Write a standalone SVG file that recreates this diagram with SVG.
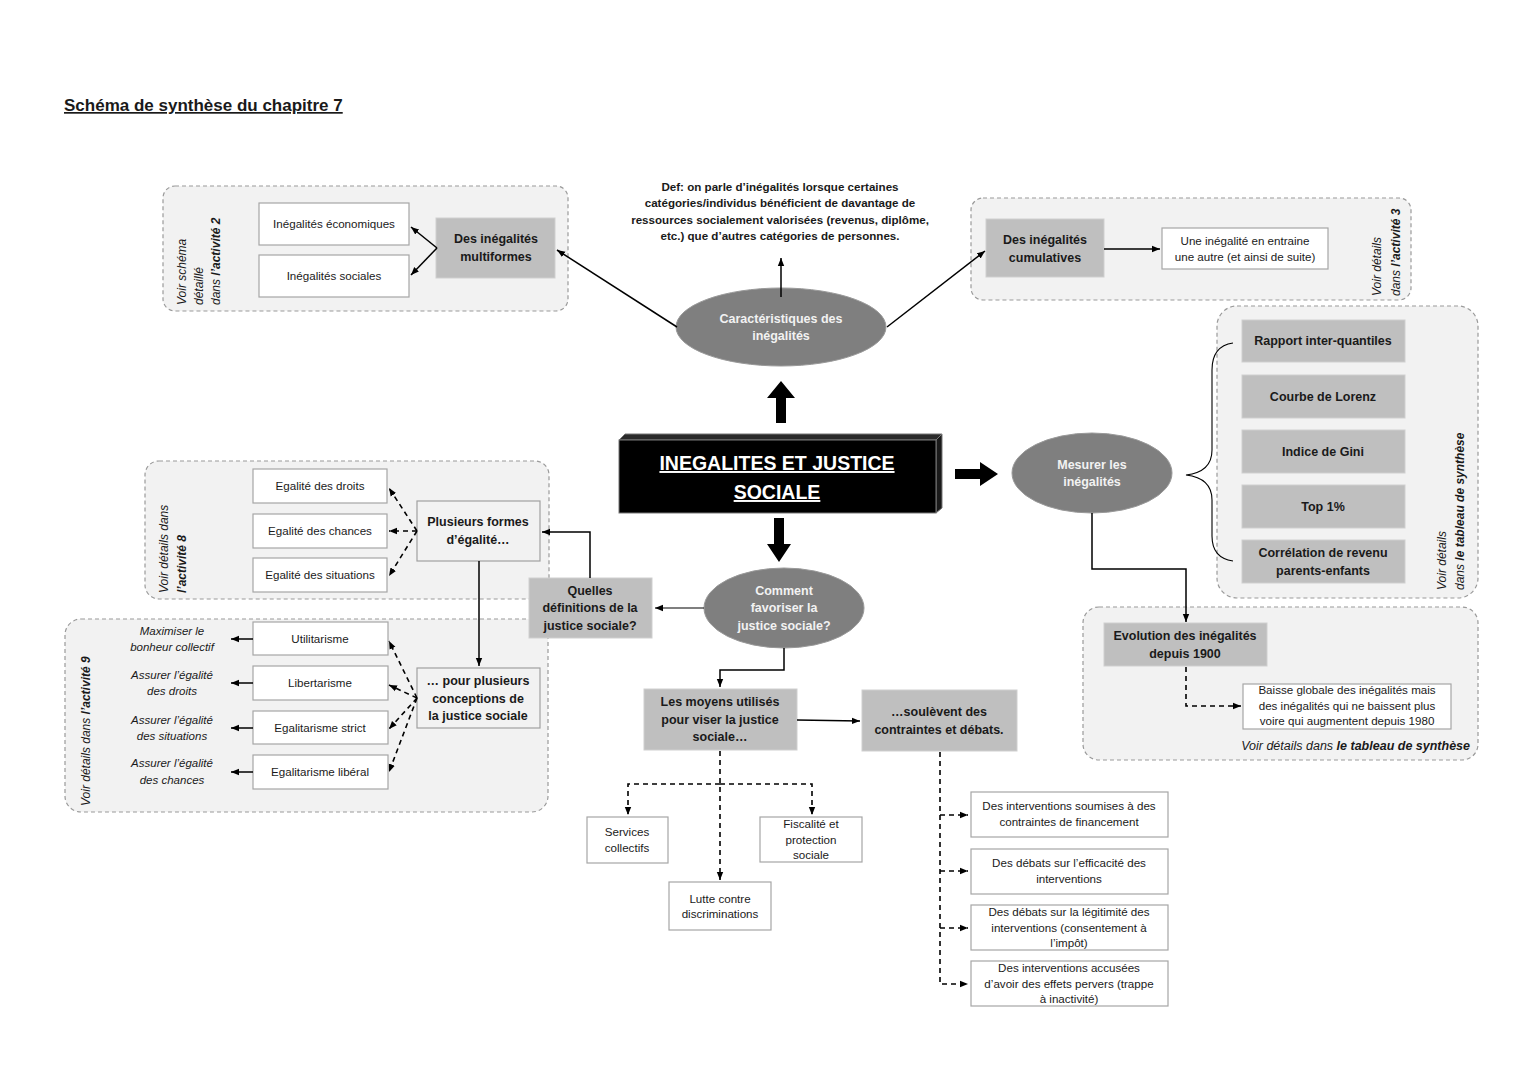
<svg xmlns="http://www.w3.org/2000/svg" width="1527" height="1080" viewBox="0 0 1527 1080">
<defs>
<marker id="a" viewBox="0 0 10 10" refX="10" refY="5" markerWidth="8" markerHeight="8" markerUnits="userSpaceOnUse" orient="auto"><path d="M0,1 L10,5 L0,9 z" fill="#000"/></marker>
<style>
text{font-family:"Liberation Sans",Arial,sans-serif;fill:#1a1a1a}
.cont{fill:#f2f2f2;stroke:#9a9a9a;stroke-width:1.2;stroke-dasharray:4,3}
.wb{fill:#fff;stroke:#a6a6a6;stroke-width:1.2}
.lb{fill:#f2f2f2;stroke:#a0a0a0;stroke-width:1.2}
.gb{fill:#bfbfbf;stroke:#cfcfcf;stroke-width:1}
.el{fill:#7f7f7f;stroke:#999;stroke-width:1}
.t11{font-size:11.6px;text-anchor:middle}
.tb{font-size:12.5px;font-weight:bold;text-anchor:middle}
.td{font-size:11.6px;font-weight:bold;text-anchor:middle}
.tw{font-size:12.5px;font-weight:bold;text-anchor:middle;fill:#f2f2f2}
.it{font-size:11.5px;font-style:italic;text-anchor:middle}
.rot{font-size:12px;font-style:italic}
.ln{fill:none;stroke:#000;stroke-width:1.5}
.th{fill:none;stroke:#000;stroke-width:1.1}
.ds{fill:none;stroke:#000;stroke-width:1.6;stroke-dasharray:5,4}
</style>
</defs>

<text x="64" y="111" style="font-size:17px;font-weight:bold;text-decoration:underline">Schéma de synthèse du chapitre 7</text>

<!-- containers -->
<g id="containers">
<rect class="cont" x="163" y="186" width="405" height="125" rx="12"/>
<rect class="cont" x="971" y="198" width="440" height="102" rx="12"/>
<rect class="cont" x="1217" y="306" width="261" height="292" rx="20"/>
<rect class="cont" x="1083" y="607" width="395" height="153" rx="16"/>
<rect class="cont" x="145" y="461" width="404" height="138" rx="14"/>
<rect class="cont" x="65" y="619" width="483" height="193" rx="16"/>
</g>

<g id="notes">
<text class="rot" transform="rotate(-90 186 305)" x="186" y="305">Voir schéma</text>
<text class="rot" transform="rotate(-90 203 305)" x="203" y="305">détaillé</text>
<text class="rot" transform="rotate(-90 220 305)" x="220" y="305">dans <tspan font-weight="bold">l’activité 2</tspan></text>
<text class="rot" transform="rotate(-90 1381 296)" x="1381" y="296">Voir détails</text>
<text class="rot" transform="rotate(-90 1400 296)" x="1400" y="296">dans <tspan font-weight="bold">l’activité 3</tspan></text>
<text class="rot" transform="rotate(-90 1446 590)" x="1446" y="590">Voir détails</text>
<text class="rot" transform="rotate(-90 1464 590)" x="1464" y="590">dans <tspan font-weight="bold">le tableau de synthèse</tspan></text>
<text class="rot" transform="rotate(-90 168 593)" x="168" y="593">Voir détails dans</text>
<text class="rot" transform="rotate(-90 186 593)" x="186" y="593"><tspan font-weight="bold">l’activité 8</tspan></text>
<text class="rot" transform="rotate(-90 90 806)" x="90" y="806">Voir détails dans <tspan font-weight="bold">l’activité 9</tspan></text>
<text x="1470" y="750" style="font-size:12.5px;font-style:italic;text-anchor:end">Voir détails dans <tspan font-weight="bold">le tableau de synthèse</tspan></text>
</g>

<!-- central -->
<g id="central">
<polygon points="619,440 625,434 942,434 936,440" fill="#2a2a2a" stroke="#777" stroke-width="1"/>
<polygon points="936,440 942,434 942,508 936,513" fill="#1a1a1a" stroke="#777" stroke-width="1"/>
<rect x="619" y="440" width="317" height="73" fill="#000" stroke="#777" stroke-width="1"/>
<text x="777" y="470" style="font-size:19.5px;font-weight:bold;text-anchor:middle;fill:#fff;text-decoration:underline">INEGALITES ET JUSTICE</text>
<text x="777" y="499" style="font-size:19.5px;font-weight:bold;text-anchor:middle;fill:#fff;text-decoration:underline">SOCIALE</text>
</g>

<g id="big-arrows" fill="#000">
<polygon points="776,423 776,398 767,398 781,381 795,398 786,398 786,423"/>
<polygon points="774,518 774,544 767,544 779,562 791,544 784,544 784,518"/>
<polygon points="955,469 980,469 980,462 998,474 980,486 980,479 955,479"/>
</g>

<!-- top -->
<g id="def">
<text class="td" x="780" y="191">Def: on parle d’inégalités lorsque certaines</text>
<text class="td" x="780" y="207">catégories/individus bénéficient de davantage de</text>
<text class="td" x="780" y="224">ressources socialement valorisées (revenus, diplôme,</text>
<text class="td" x="780" y="240">etc.) que d’autres catégories de personnes.</text>
</g>
<g id="caracteristiques">
<ellipse class="el" cx="781" cy="327" rx="105" ry="39"/>
<text class="tw" x="781" y="323">Caractéristiques  des</text>
<text class="tw" x="781" y="340">inégalités</text>
</g>
<g id="ineg-eco"><rect class="wb" x="259" y="203" width="150" height="42"/><text class="t11" x="334" y="228">Inégalités économiques</text></g>
<g id="ineg-soc"><rect class="wb" x="259" y="255" width="150" height="42"/><text class="t11" x="334" y="280">Inégalités sociales</text></g>
<g id="multiformes"><rect class="gb" x="436" y="218" width="119" height="60"/><text class="tb" x="496" y="243">Des inégalités</text><text class="tb" x="496" y="261">multiformes</text></g>
<g id="cumulatives"><rect class="gb" x="986" y="219" width="118" height="58"/><text class="tb" x="1045" y="244">Des inégalités</text><text class="tb" x="1045" y="262">cumulatives</text></g>
<g id="entraine"><rect class="wb" x="1162" y="228" width="166" height="41"/><text class="t11" x="1245" y="245">Une inégalité en entraine</text><text class="t11" x="1245" y="261">une autre (et ainsi de suite)</text></g>

<!-- right -->
<g id="mesurer"><ellipse class="el" cx="1092" cy="473" rx="80" ry="40"/><text class="tw" x="1092" y="469">Mesurer les</text><text class="tw" x="1092" y="486">inégalités</text></g>
<g id="rapport"><rect class="gb" x="1242" y="320" width="163" height="42"/><text class="tb" x="1323" y="345">Rapport inter-quantiles</text></g>
<g id="lorenz"><rect class="gb" x="1242" y="375" width="163" height="43"/><text class="tb" x="1323" y="401">Courbe de Lorenz</text></g>
<g id="gini"><rect class="gb" x="1242" y="430" width="163" height="43"/><text class="tb" x="1323" y="456">Indice de Gini</text></g>
<g id="top1"><rect class="gb" x="1242" y="485" width="163" height="43"/><text class="tb" x="1323" y="511">Top 1%</text></g>
<g id="correlation"><rect class="gb" x="1242" y="540" width="163" height="43"/><text class="tb" x="1323" y="557">Corrélation de revenu</text><text class="tb" x="1323" y="575">parents-enfants</text></g>
<g id="evolution"><rect class="gb" x="1104" y="623" width="163" height="43"/><text class="tb" x="1185" y="640">Evolution des inégalités</text><text class="tb" x="1185" y="658">depuis 1900</text></g>
<g id="baisse"><rect class="wb" x="1243" y="684" width="208" height="45"/><text class="t11" x="1347" y="694">Baisse globale des inégalités mais</text><text class="t11" x="1347" y="710">des inégalités qui ne baissent plus</text><text class="t11" x="1347" y="725">voire qui augmentent depuis 1980</text></g>

<!-- left -->
<g id="eg-droits"><rect class="wb" x="253" y="469" width="134" height="34"/><text class="t11" x="320" y="490">Egalité des droits</text></g>
<g id="eg-chances"><rect class="wb" x="253" y="514" width="134" height="34"/><text class="t11" x="320" y="535">Egalité des chances</text></g>
<g id="eg-situations"><rect class="wb" x="253" y="558" width="134" height="34"/><text class="t11" x="320" y="579">Egalité des situations</text></g>
<g id="plusieurs-formes"><rect class="lb" x="417" y="501" width="123" height="60"/><text class="tb" x="478" y="526">Plusieurs formes</text><text class="tb" x="478" y="544">d’égalité…</text></g>
<g id="quelles"><rect class="gb" x="529" y="578" width="123" height="60"/><text class="tb" x="590" y="595">Quelles</text><text class="tb" x="590" y="612">définitions de la</text><text class="tb" x="590" y="630">justice sociale?</text></g>
<g id="conceptions"><rect class="lb" x="417" y="668" width="123" height="60"/><text class="tb" x="478" y="685">… pour plusieurs</text><text class="tb" x="478" y="703">conceptions de</text><text class="tb" x="478" y="720">la justice sociale</text></g>
<g id="utilitarisme"><rect class="wb" x="253" y="622" width="135" height="33"/><text class="t11" x="320" y="643">Utilitarisme</text></g>
<g id="libertarisme"><rect class="wb" x="253" y="666" width="135" height="34"/><text class="t11" x="320" y="687">Libertarisme</text></g>
<g id="egal-strict"><rect class="wb" x="253" y="711" width="135" height="33"/><text class="t11" x="320" y="732">Egalitarisme strict</text></g>
<g id="egal-liberal"><rect class="wb" x="253" y="755" width="135" height="34"/><text class="t11" x="320" y="776">Egalitarisme libéral</text></g>
<g id="labels-left">
<text class="it" x="172" y="635">Maximiser le</text><text class="it" x="172" y="651">bonheur collectif</text>
<text class="it" x="172" y="679">Assurer l’égalité</text><text class="it" x="172" y="695">des droits</text>
<text class="it" x="172" y="724">Assurer l’égalité</text><text class="it" x="172" y="740">des situations</text>
<text class="it" x="172" y="767">Assurer l’égalité</text><text class="it" x="172" y="784">des chances</text>
</g>

<!-- bottom -->
<g id="comment"><ellipse class="el" cx="784" cy="608" rx="80" ry="40"/><text class="tw" x="784" y="595">Comment</text><text class="tw" x="784" y="612">favoriser la</text><text class="tw" x="784" y="630">justice sociale?</text></g>
<g id="moyens"><rect class="gb" x="644" y="689" width="153" height="61"/><text class="tb" x="720" y="706">Les moyens utilisés</text><text class="tb" x="720" y="724">pour viser la justice</text><text class="tb" x="720" y="741">sociale…</text></g>
<g id="soulevent"><rect class="gb" x="862" y="690" width="155" height="61"/><text class="tb" x="939" y="716">…soulèvent des</text><text class="tb" x="939" y="734">contraintes et débats.</text></g>
<g id="services"><rect class="wb" x="587" y="817" width="81" height="46"/><text class="t11" x="627" y="836">Services</text><text class="t11" x="627" y="852">collectifs</text></g>
<g id="fiscalite"><rect class="wb" x="760" y="817" width="102" height="45"/><text class="t11" x="811" y="828">Fiscalité et</text><text class="t11" x="811" y="844">protection</text><text class="t11" x="811" y="859">sociale</text></g>
<g id="lutte"><rect class="wb" x="669" y="882" width="102" height="48"/><text class="t11" x="720" y="903">Lutte contre</text><text class="t11" x="720" y="918">discriminations</text></g>
<g id="financement"><rect class="wb" x="971" y="792" width="197" height="45"/><text class="t11" x="1069" y="810">Des interventions soumises à des</text><text class="t11" x="1069" y="826">contraintes de financement</text></g>
<g id="efficacite"><rect class="wb" x="971" y="849" width="197" height="45"/><text class="t11" x="1069" y="867">Des débats sur l’efficacité des</text><text class="t11" x="1069" y="883">interventions</text></g>
<g id="legitimite"><rect class="wb" x="971" y="905" width="197" height="45"/><text class="t11" x="1069" y="916">Des débats sur la légitimité des</text><text class="t11" x="1069" y="932">interventions (consentement à</text><text class="t11" x="1069" y="947">l’impôt)</text></g>
<g id="pervers"><rect class="wb" x="971" y="961" width="197" height="45"/><text class="t11" x="1069" y="972">Des interventions accusées</text><text class="t11" x="1069" y="988">d’avoir des effets pervers (trappe</text><text class="t11" x="1069" y="1003">à inactivité)</text></g>

<!-- connectors -->
<g id="connectors">
<path class="ln" d="M437,248 L411,227" marker-end="url(#a)"/>
<path class="ln" d="M437,248 L411,275" marker-end="url(#a)"/>
<path class="ln" d="M677,327 L557,250" marker-end="url(#a)"/>
<path class="ln" d="M781,297 L781,258" marker-end="url(#a)"/>
<path class="ln" d="M887,327 L985,251" marker-end="url(#a)"/>
<path class="ln" d="M1104,249 L1160,249" marker-end="url(#a)"/>
<path class="th" d="M1233,343 Q1212,346 1212,370 L1212,450 Q1212,472 1186,475 Q1212,478 1212,500 L1212,536 Q1212,558 1233,561"/>
<path class="ln" d="M1092,513 V569 H1186 V622" marker-end="url(#a)"/>
<path class="ds" d="M1186,667 V706 H1241" marker-end="url(#a)"/>
<path class="th" d="M704,608 H655" marker-end="url(#a)"/>
<path class="ln" d="M590,578 V532 H542" marker-end="url(#a)"/>
<path class="ln" d="M479,561 V666" marker-end="url(#a)"/>
<path class="ds" d="M417,531 L389,488" marker-end="url(#a)"/>
<path class="ds" d="M417,531 L389,531" marker-end="url(#a)"/>
<path class="ds" d="M417,531 L389,576" marker-end="url(#a)"/>
<path class="ds" d="M417,698 L389,641" marker-end="url(#a)"/>
<path class="ds" d="M417,698 L389,685" marker-end="url(#a)"/>
<path class="ds" d="M417,698 L389,729" marker-end="url(#a)"/>
<path class="ds" d="M417,698 L389,772" marker-end="url(#a)"/>
<path class="ln" d="M253,639 H231" marker-end="url(#a)"/>
<path class="ln" d="M253,683 H231" marker-end="url(#a)"/>
<path class="ln" d="M253,728 H231" marker-end="url(#a)"/>
<path class="ln" d="M253,772 H231" marker-end="url(#a)"/>
<path class="ln" d="M784,648 V670 H720 V687" marker-end="url(#a)"/>
<path class="ln" d="M797,720 L860,721" marker-end="url(#a)"/>
<path class="ds" d="M720,751 V880" marker-end="url(#a)"/>
<path class="ds" d="M720,784 H628 V815" marker-end="url(#a)"/>
<path class="ds" d="M720,784 H812 V815" marker-end="url(#a)"/>
<path class="ds" d="M940,752 V984 H968" marker-end="url(#a)"/>
<path class="ds" d="M940,815 H968" marker-end="url(#a)"/>
<path class="ds" d="M940,871 H968" marker-end="url(#a)"/>
<path class="ds" d="M940,928 H968" marker-end="url(#a)"/>
</g>
</svg>
